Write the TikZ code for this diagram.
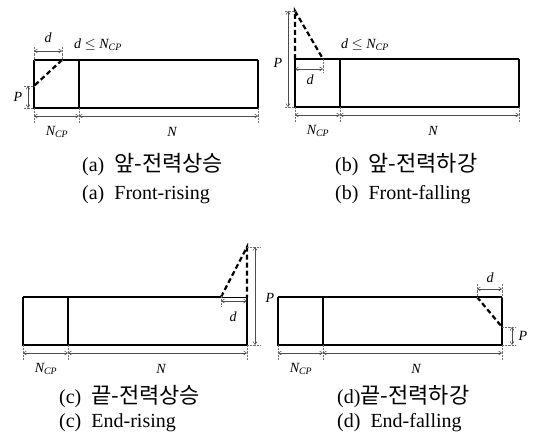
\documentclass[tikz,border=0pt]{standalone}
\usepackage{fontspec}
\setmainfont{Liberation Serif}
\newfontfamily\kr{Noto Sans CJK KR}[Scale=1.1]
\usetikzlibrary{arrows.meta}
\tikzset{
  box/.style={draw=black, line width=1.3pt},
  thinbox/.style={draw=black, line width=0.6pt},
  cut/.style={draw=black, line width=2.2pt, dash pattern=on 5pt off 3pt},
  dim/.style={draw=black!70, line width=0.5pt,
    {Straight Barb[length=3pt,width=4pt]}-{Straight Barb[length=3pt,width=4pt]}},
  ext/.style={draw=black!55, line width=0.4pt, densely dotted},
  lbl/.style={font=\fontsize{14}{14}\selectfont\itshape, inner sep=1pt},
  captext/.style={font=\fontsize{20}{22}\selectfont, anchor=west, inner sep=0pt}
}
\newcommand{\ncp}{N\textsubscript{CP}}
% slab: left, bottom and right edges, divider and the N_CP / N dimensions
\newcommand{\slab}{%
  \coordinate (tl) at (0,0);   \coordinate (tr) at (224,0);
  \coordinate (bl) at (0,48);  \coordinate (br) at (224,48);
  \coordinate (dt) at (45,0);  \coordinate (db) at (45,48);
  \draw[box] (tl) -- (bl) -- (br) -- (tr);
  \draw[box] (dt) -- (db);
  \draw[ext] (bl) -- ++(0,15);
  \draw[ext] (db) -- ++(0,15);
  \draw[ext] (br) -- ++(0,15);
  \draw[dim] (0,56) -- (45,56);
  \draw[dim] (45,56) -- (224,56);
  \node[lbl] (ncp) at (23,72) {\ncp};
  \node[lbl] (n) at (138,72) {N};
}

\begin{document}
\begin{tikzpicture}[x=1pt, y=-1pt]
  \useasboundingbox (0,0) rectangle (537,444);

  % (a) front-rising
  \begin{scope}[shift={(34,60)}]
    \slab
    \draw[box] (tl) -- (tr);
    \draw[cut] (28,0) -- (0,26);
    \draw[ext] (0,0) -- (0,-13);
    \draw[ext] (28,0) -- (28,-13);
    \draw[dim] (0,-9) -- (28,-9);
    \node[lbl] (ad) at (14,-22) {d};
    \node[lbl, anchor=west] (arule) at (39,-15) {d $\leq$ \ncp};
    \draw[ext] (0,26) -- ++(-10,0);
    \draw[ext] (bl) -- ++(-10,0);
    \draw[dim] (-6,26) -- (-6,48);
    \node[lbl] (ap) at (-16,37) {P};
    \node[captext] (acap) at (48,105) {(a)~~{\kr 앞-전력상승}};
    \node[captext] (aeng) at (48,135) {(a)~~Front-rising};
  \end{scope}

  % (b) front-falling
  \begin{scope}[shift={(295,59)}]
    \slab
    \draw[box] (tl) -- (tr);
    \draw[cut] (0,0) -- (0,-48) -- (28,0);
    \draw[ext] (0,-48) -- ++(-11,0);
    \draw[ext] (bl) -- ++(-11,0);
    \draw[dim] (-7,-48) -- (-7,48);
    \node[lbl] (bp) at (-17,4) {P};
    \draw[ext] (28,0) -- (28,14);
    \draw[dim] (0,10) -- (28,10);
    \node[lbl] (bd) at (15,21) {d};
    \node[lbl, anchor=west] (brule) at (45,-14) {d $\leq$ \ncp};
    \node[captext] (bcap) at (40,106) {(b)~~{\kr 앞-전력하강}};
    \node[captext] (beng) at (40,136) {(b)~~Front-falling};
  \end{scope}

  % (c) end-rising
  \begin{scope}[shift={(23,297)}]
    \slab
    \draw[box] (tl) -- (198,0);
    \draw[thinbox] (198,0) -- (tr);
    \draw[cut] (198,0) -- (224,-50) -- (224,0);
    \draw[ext] (198,-4) -- (198,10);
    \draw[dim] (198,4) -- (224,4);
    \node[lbl] (cd) at (210,20) {d};
    \draw[ext] (224,-50) -- ++(13,0);
    \draw[ext] (br) -- ++(13,0);
    \draw[dim] (232,-50) -- (232,48);
    \node[lbl] (cp) at (247,1) {P};
    \node[captext] (ccap) at (36,100) {(c)~~{\kr 끝-전력상승}};
    \node[captext] (ceng) at (36,126) {(c)~~End-rising};
  \end{scope}

  % (d) end-falling
  \begin{scope}[shift={(278,297)}]
    \slab
    \draw[box] (tl) -- (tr);
    \draw[cut] (199,0) -- (224,30);
    \draw[ext] (199,0) -- (199,-13);
    \draw[ext] (tr) -- ++(0,-13);
    \draw[dim] (199,-8) -- (224,-8);
    \node[lbl] (dd) at (212,-19) {d};
    \draw[ext] (224,30) -- ++(14,0);
    \draw[ext] (br) -- ++(14,0);
    \draw[dim] (234,30) -- (234,48);
    \node[lbl] (dp) at (245,39) {P};
    \node[captext] (dcap) at (59,100) {(d){\kr 끝-전력하강}};
    \node[captext] (deng) at (59,126) {(d)~~End-falling};
  \end{scope}
\end{tikzpicture}
\end{document}
